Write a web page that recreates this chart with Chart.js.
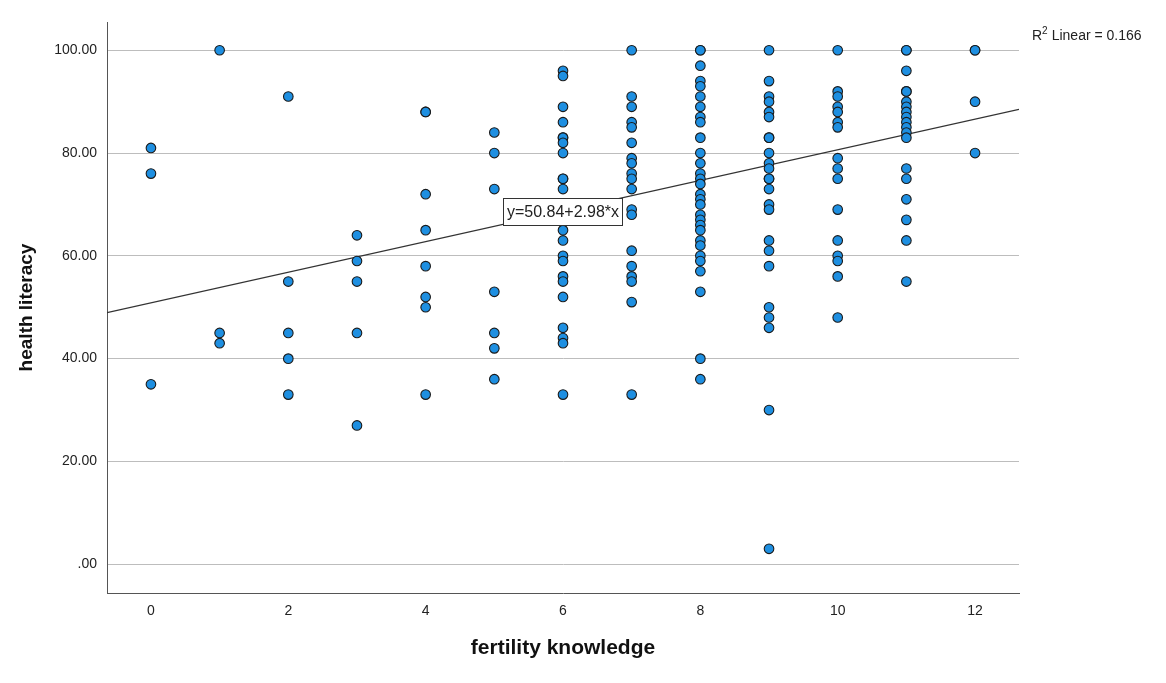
<!DOCTYPE html>
<html>
<head>
<meta charset="utf-8">
<script src="https://cdn.jsdelivr.net/npm/chart.js@4/dist/chart.umd.min.js"></script>
<style>
  html, body { margin: 0; padding: 0; background: #fff; }
  #wrap { width: 1166px; height: 683px; }
</style>
</head>
<body>
<div id="wrap"><canvas id="chartScatter"></canvas></div>
<script>
// fertility knowledge scores (x) and the health literacy values read at each score (y)
const knowledgeScores = [0, 1, 2, 3, 4, 5, 6, 7, 8, 9, 10, 11, 12];
const literacyByScore = [
  [81, 76, 35],
  [100, 45, 43],
  [91, 55, 45, 40, 33],
  [64, 59, 55, 45, 27],
  [88, 88, 72, 65, 58, 52, 50, 33],
  [84, 80, 73, 53, 45, 42, 36],
  [96, 95, 89, 86, 83, 83, 82, 80, 75, 75, 73, 65, 63, 60, 59, 56, 55, 52, 46, 44, 43, 33],
  [100, 91, 89, 86, 85, 82, 79, 78, 76, 75, 73, 69, 68, 61, 58, 56, 55, 51, 33],
  [100, 100, 97, 94, 93, 91, 89, 87, 86, 83, 80, 78, 76, 75, 74, 72, 71, 70, 68, 67, 66, 65, 63, 62, 60, 59, 57, 53, 40, 36],
  [100, 94, 91, 90, 88, 87, 83, 83, 80, 78, 77, 75, 75, 73, 70, 69, 63, 61, 58, 50, 48, 46, 30, 3],
  [100, 92, 91, 89, 88, 86, 85, 79, 77, 75, 69, 63, 60, 59, 56, 48],
  [100, 100, 96, 92, 92, 90, 89, 88, 87, 86, 85, 84, 83, 77, 75, 71, 67, 63, 55],
  [100, 100, 90, 80]
];
const xTicks = [0, 2, 4, 6, 8, 10, 12];
const yTicks = [0, 20, 40, 60, 80, 100];

// fit line coefficients shown on the chart
const intercept = 50.84;
const slope = 2.98;
const rSquared = 0.166;

const xMin = -0.64, xMax = 12.64;
const yMin = -5.6, yMax = 105.5;

const points = [];
knowledgeScores.forEach((k, i) => {
  literacyByScore[i].forEach(v => points.push({ x: k, y: v }));
});

const fitLine = [
  { x: xMin, y: intercept + slope * xMin },
  { x: xMax, y: intercept + slope * xMax }
];

const fontFam = '"Liberation Sans", Arial, sans-serif';

// texts drawn on top of the plot: equation box and R2 note
const annotations = {
  id: 'annotations',
  afterDatasetsDraw(chart) {
    const ctx = chart.ctx;
    const xs = chart.scales.x, ys = chart.scales.y;
    const label = 'y=' + intercept.toFixed(2) + '+' + slope.toFixed(2) + '*x';
    ctx.save();
    ctx.font = '16px ' + fontFam;
    const w = ctx.measureText(label).width + 7;
    const h = 27;
    const cx = xs.getPixelForValue(6.0);
    const cy = ys.getPixelForValue(68.6);
    ctx.fillStyle = '#fff';
    ctx.fillRect(cx - w / 2, cy - h / 2, w, h);
    ctx.strokeStyle = '#333';
    ctx.lineWidth = 1;
    ctx.strokeRect(Math.round(cx - w / 2) + 0.5, Math.round(cy - h / 2) + 0.5, Math.round(w), h);
    ctx.fillStyle = '#222';
    ctx.textAlign = 'center';
    ctx.textBaseline = 'middle';
    ctx.fillText(label, cx, cy + 1);

    // R2 Linear note, top right
    ctx.textAlign = 'left';
    ctx.textBaseline = 'alphabetic';
    ctx.font = '14px ' + fontFam;
    let tx = 1032, ty = 40;
    ctx.fillText('R', tx, ty);
    tx += ctx.measureText('R').width;
    ctx.font = '10px ' + fontFam;
    ctx.fillText('2', tx, ty - 6);
    tx += ctx.measureText('2').width + 4;
    ctx.font = '14px ' + fontFam;
    ctx.fillText('Linear = ' + rSquared.toFixed(3), tx, ty);
    ctx.restore();
  }
};

const ctxScatter = document.getElementById('chartScatter').getContext('2d');
const chartScatter = new Chart(ctxScatter, {
  type: 'scatter',
  data: {
    datasets: [
      {
        type: 'line',
        data: fitLine,
        borderColor: '#333',
        borderWidth: 1.2,
        pointRadius: 0,
        fill: false,
        order: 2
      },
      {
        data: points,
        backgroundColor: '#1E8FE1',
        borderColor: '#1a1a1a',
        borderWidth: 1.1,
        pointRadius: 4.8,
        order: 1
      }
    ]
  },
  options: {
    responsive: true,
    maintainAspectRatio: false,
    animation: false,
    layout: { padding: { left: 0, right: 147, top: 22, bottom: 0 } },
    plugins: {
      legend: { display: false },
      tooltip: { enabled: false }
    },
    scales: {
      x: {
        type: 'linear',
        min: xMin,
        max: xMax,
        afterBuildTicks(scale) { scale.ticks = xTicks.map(v => ({ value: v })); },
        afterFit(scale) { scale.height = 90; },
        grid: { display: false, drawTicks: false },
        border: { display: true, color: '#555', width: 1 },
        ticks: {
          padding: 10,
          color: '#222',
          font: { family: fontFam, size: 14 }
        },
        title: {
          display: true,
          text: 'fertility knowledge',
          color: '#111',
          font: { family: fontFam, size: 21, weight: 'bold' },
          padding: { top: 0, bottom: 22 }
        }
      },
      y: {
        type: 'linear',
        min: yMin,
        max: yMax,
        afterBuildTicks(scale) { scale.ticks = yTicks.map(v => ({ value: v })); },
        afterFit(scale) { scale.width = 107; },
        grid: { display: true, color: '#bdbdbd', lineWidth: 1, drawTicks: false },
        border: { display: true, color: '#555', width: 1 },
        ticks: {
          padding: 10,
          color: '#222',
          font: { family: fontFam, size: 14 },
          callback: v => (v === 0 ? '.00' : v.toFixed(2))
        },
        title: {
          display: true,
          text: 'health literacy',
          color: '#111',
          font: { family: fontFam, size: 19, weight: 'bold' },
          padding: { top: 15, bottom: 0 }
        }
      }
    }
  },
  plugins: [annotations]
});
</script>
</body>
</html>
